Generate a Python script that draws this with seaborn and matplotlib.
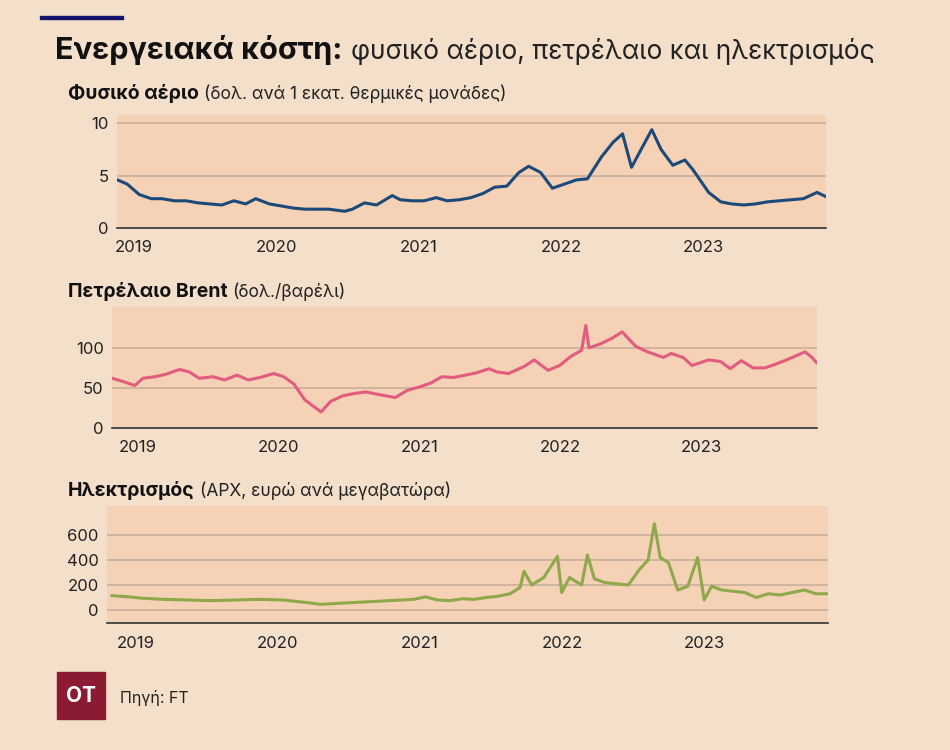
import pandas as pd
import seaborn as sns
import matplotlib.pyplot as plt
from matplotlib.patches import Rectangle

sns.set_style("white")
plt.rcParams['font.family'] = ['Inter', 'DejaVu Sans']

BG = '#f3dfca'
PANEL = '#f5d1b5'
GRID = '#c8b09c'

# %% Data (monthly readings)

gas_dates = ['2018-11-20', '2018-12-15', '2019-01-15', '2019-02-15', '2019-03-15', '2019-04-15', '2019-05-15',
             '2019-06-15', '2019-07-15', '2019-08-15', '2019-09-15', '2019-10-15', '2019-11-10', '2019-12-15',
             '2020-01-15', '2020-02-15', '2020-03-15', '2020-04-15', '2020-05-15', '2020-06-25', '2020-07-15',
             '2020-08-15', '2020-09-15', '2020-10-25', '2020-11-15', '2020-12-15', '2021-01-15', '2021-02-15',
             '2021-03-15', '2021-04-15', '2021-05-15', '2021-06-15', '2021-07-15', '2021-08-15', '2021-09-15',
             '2021-10-10', '2021-11-10', '2021-12-10', '2022-01-10', '2022-02-10', '2022-03-10', '2022-04-15',
             '2022-05-15', '2022-06-08', '2022-07-01', '2022-08-22', '2022-09-15', '2022-10-15', '2022-11-15',
             '2022-12-05', '2023-01-15', '2023-02-15', '2023-03-15', '2023-04-15', '2023-05-15', '2023-06-15',
             '2023-07-15', '2023-08-15', '2023-09-15', '2023-10-20', '2023-11-12']
gas_values = [4.6, 4.2, 3.2, 2.8, 2.8, 2.6, 2.6, 2.4, 2.3, 2.2, 2.6, 2.3, 2.8, 2.3,
              2.1, 1.9, 1.8, 1.8, 1.8, 1.6, 1.8, 2.4, 2.2, 3.1, 2.7, 2.6, 2.6, 2.9,
              2.6, 2.7, 2.9, 3.3, 3.9, 4.0, 5.3, 5.9, 5.3, 3.8, 4.2, 4.6, 4.7, 6.8,
              8.2, 9.0, 5.8, 9.4, 7.5, 6.0, 6.5, 5.6, 3.4, 2.5, 2.3, 2.2, 2.3, 2.5,
              2.6, 2.7, 2.8, 3.4, 3.0]

oil_dates = ['2018-10-28', '2018-11-25', '2018-12-25', '2019-01-15', '2019-02-15', '2019-03-15', '2019-04-20',
             '2019-05-15', '2019-06-10', '2019-07-15', '2019-08-15', '2019-09-16', '2019-10-15', '2019-11-15',
             '2019-12-20', '2020-01-15', '2020-02-10', '2020-03-10', '2020-04-21', '2020-05-15', '2020-06-15',
             '2020-07-15', '2020-08-15', '2020-09-15', '2020-10-30', '2020-11-30', '2020-12-30', '2021-01-30',
             '2021-02-28', '2021-03-30', '2021-04-30', '2021-05-30', '2021-06-30', '2021-07-20', '2021-08-20',
             '2021-09-30', '2021-10-25', '2021-11-30', '2021-12-30', '2022-01-30', '2022-02-25', '2022-03-08',
             '2022-03-16', '2022-04-15', '2022-05-15', '2022-06-10', '2022-07-15', '2022-08-15', '2022-09-25',
             '2022-10-15', '2022-11-15', '2022-12-08', '2023-01-20', '2023-02-20', '2023-03-17', '2023-04-15',
             '2023-05-15', '2023-06-15', '2023-07-15', '2023-08-15', '2023-09-27', '2023-10-15', '2023-10-28']
oil_values = [62, 58, 53, 62, 64, 67, 73, 70, 62, 64, 60, 66, 60, 63,
              68, 64, 55, 35, 20, 33, 40, 43, 45, 42, 38, 47, 51, 56,
              64, 63, 66, 69, 74, 70, 68, 77, 85, 72, 78, 90, 97, 128,
              100, 105, 112, 120, 102, 95, 88, 93, 88, 78, 85, 83, 74, 84,
              75, 75, 80, 86, 95, 88, 81]

elec_dates = ['2018-11-01', '2018-12-15', '2019-01-15', '2019-03-15', '2019-05-15', '2019-07-15', '2019-09-15',
              '2019-11-15', '2020-01-15', '2020-03-15', '2020-04-20', '2020-06-15', '2020-08-15', '2020-10-15',
              '2020-12-15', '2021-01-15', '2021-02-15', '2021-03-20', '2021-04-20', '2021-05-20', '2021-06-20',
              '2021-07-20', '2021-08-20', '2021-09-15', '2021-09-25', '2021-10-15', '2021-11-15', '2021-12-20',
              '2021-12-31', '2022-01-20', '2022-02-20', '2022-03-07', '2022-03-25', '2022-04-20', '2022-05-20',
              '2022-06-20', '2022-07-20', '2022-08-10', '2022-08-26', '2022-09-10', '2022-10-01', '2022-10-25',
              '2022-11-20', '2022-12-15', '2023-01-01', '2023-01-20', '2023-02-15', '2023-03-15', '2023-04-15',
              '2023-05-15', '2023-06-15', '2023-07-15', '2023-08-15', '2023-09-15', '2023-10-15', '2023-11-12']
elec_values = [115, 105, 95, 85, 80, 75, 80, 85, 80, 60, 45, 55, 65, 75,
               85, 105, 80, 75, 90, 85, 100, 110, 130, 180, 310, 200, 260, 430,
               140, 260, 200, 440, 250, 220, 210, 200, 330, 400, 690, 420, 380, 160,
               190, 420, 80, 190, 160, 150, 140, 100, 130, 120, 140, 160, 130, 130]

year_ticks = ['2019', '2020', '2021', '2022', '2023']

panels = [
    dict(dates=gas_dates, values=gas_values, color='#1b4a7a', title='Φυσικό αέριο',
         unit='(δολ. ανά 1 εκατ. θερμικές μονάδες)', yticks=[0, 5, 10], ylim=(0, 10.8),
         xlim=('2018-11-19', '2023-11-12'), rect=[117, 115, 826, 228], head=93),
    dict(dates=oil_dates, values=oil_values, color='#e25c7f', title='Πετρέλαιο Brent',
         unit='(δολ./βαρέλι)', yticks=[0, 50, 100], ylim=(0, 151),
         xlim=('2018-10-27', '2023-10-28'), rect=[112, 307, 817, 428], head=291),
    dict(dates=elec_dates, values=elec_values, color='#8fa84a', title='Ηλεκτρισμός',
         unit='(APX, ευρώ ανά μεγαβατώρα)', yticks=[0, 200, 400, 600], ylim=(-104, 832),
         xlim=('2018-10-20', '2023-11-15'), rect=[107, 506, 828, 623], head=490),
]

W, H = 950, 750
fig = plt.figure(figsize=(9.5, 7.5), dpi=100, facecolor=BG)
renderer = fig.canvas.get_renderer()


def text_pair(x, y, bold, normal, bsize, nsize, gap):
    t = fig.text(x / W, 1 - y / H, bold, fontsize=bsize, fontweight='bold', va='baseline', color='#111111')
    x_end = t.get_window_extent(renderer).x1
    fig.text((x_end + gap) / W, 1 - y / H, normal, fontsize=nsize, va='baseline', color='#222222')


for p in panels:
    x0, y0, x1, y1 = p['rect']
    ax = fig.add_axes([x0 / W, 1 - y1 / H, (x1 - x0) / W, (y1 - y0) / H])
    ax.set_facecolor(PANEL)
    df = pd.DataFrame({'date': pd.to_datetime(p['dates']), 'value': p['values']})
    sns.lineplot(data=df, x='date', y='value', color=p['color'], linewidth=2.2, ax=ax)
    ax.set_xlim(pd.Timestamp(p['xlim'][0]), pd.Timestamp(p['xlim'][1]))
    ax.set_ylim(*p['ylim'])
    ax.set_yticks(p['yticks'])
    ax.set_xticks(pd.to_datetime([y + '-01-01' for y in year_ticks]))
    ax.set_xticklabels(year_ticks)
    ax.set_xlabel('')
    ax.set_ylabel('')
    for t in p['yticks']:
        if t > 0 or p['ylim'][0] < 0:
            ax.axhline(t, color=GRID, lw=1.2, zorder=0)
    for s in ['top', 'right', 'left']:
        ax.spines[s].set_visible(False)
    ax.spines['bottom'].set_color('#333333')
    ax.spines['bottom'].set_linewidth(1.2)
    ax.tick_params(axis='x', length=6, width=1.2, color='#555555', labelsize=12, pad=3, direction='out')
    ax.tick_params(axis='y', length=0, labelsize=12, pad=6)
    for lab in ax.get_xticklabels() + ax.get_yticklabels():
        lab.set_color('#222222')
    text_pair(68, p['head'] + 6, p['title'], p['unit'], 14, 12.5, 5)

# title and decorations
fig.add_artist(Rectangle((40 / W, 1 - 19 / H), 83 / W, 3 / H, color='#14136b', transform=fig.transFigure))
text_pair(55, 59, 'Ενεργειακά κόστη:', 'φυσικό αέριο, πετρέλαιο και ηλεκτρισμός', 22, 19, 9)

fig.add_artist(Rectangle((57 / W, 1 - 719 / H), 48 / W, 47 / H, color='#8b1a33', transform=fig.transFigure))
fig.text(81 / W, 1 - 696 / H, 'OT', fontsize=15, fontweight='bold', color='white', ha='center', va='center')
fig.text(120 / W, 1 - 698 / H, 'Πηγή: FT', fontsize=11.5, color='#222222', va='center')

plt.savefig('out.png', dpi=100, facecolor=BG)
